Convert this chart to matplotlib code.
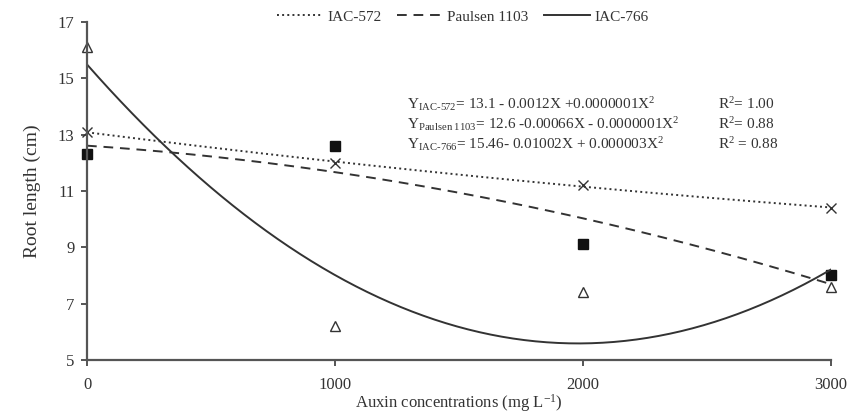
import matplotlib
matplotlib.use('Agg')
import matplotlib.pyplot as plt
import numpy as np

# data
auxin = [0, 1000, 2000, 3000]
iac572 = [13.1, 12.0, 11.2, 10.4]
paulsen = [12.3, 12.6, 9.1, 8.0]
iac766 = [16.1, 6.2, 7.4, 7.6]
y_ticks = [5, 7, 9, 11, 13, 15, 17]
x_ticks = [0, 1000, 2000, 3000]

plt.rcParams['font.family'] = ['Liberation Serif']
plt.rcParams['mathtext.fontset'] = 'custom'
plt.rcParams['mathtext.rm'] = 'Liberation Serif'
plt.rcParams['mathtext.it'] = 'Liberation Serif:italic'

ink = '#333333'
fig = plt.figure(figsize=(8.48, 4.17), dpi=100)
ax = fig.add_axes([0.1026, 0.137, 0.877, 0.81])

xs = np.linspace(0, 3000, 200)
styles = [(iac572, 'x', ':', 'IAC-572', dict(color=ink)),
          (paulsen, 's', (0, (5, 3.5)), 'Paulsen 1103', dict(color='#111111')),
          (iac766, '^', '-', 'IAC-766', dict(markerfacecolor='white', markeredgecolor=ink))]
for vals, mk, ls, lab, mkw in styles:
    coef = np.polyfit(auxin, vals, 2)  # quadratic trend line
    ax.plot(xs, np.polyval(coef, xs), color=ink, ls=ls, lw=1.4, label=lab)
    ax.plot(auxin, vals, ls='none', marker=mk, ms=7, mew=1.0, clip_on=False, **mkw)

ax.set_xlim(0, 3000)
ax.set_ylim(5, 17)
ax.set_xticks(x_ticks)
ax.set_yticks(y_ticks)
for s in ['top', 'right']:
    ax.spines[s].set_visible(False)
for s in ['left', 'bottom']:
    ax.spines[s].set_color('#555555')
    ax.spines[s].set_linewidth(1.6)
ax.tick_params(axis='y', direction='out', length=4, width=1.4, color='#555555',
               labelsize=12, labelcolor=ink, pad=5)
ax.tick_params(axis='x', direction='out', length=4, width=1.4, color='#555555',
               labelsize=12, labelcolor=ink, pad=8)
ax.set_ylabel('Root length (cm)', fontsize=14, color=ink, labelpad=12)
ax.set_xlabel('Auxin concentrations (mg L$^{\\mathrm{-1}}$)', fontsize=12, color=ink, labelpad=0)

ax.legend(loc='lower center', bbox_to_anchor=(0.505, 0.955), ncol=3, frameon=False,
          fontsize=11, handlelength=3, columnspacing=1.0, handletextpad=0.3,
          labelcolor=ink)

eqs = ['Y$_{\\mathrm{IAC\u2010572}}$= 13.1 - 0.0012X +0.0000001X$^{2}$',
       'Y$_{\\mathrm{Paulsen\\ 1103}}$= 12.6 -0.00066X - 0.0000001X$^{2}$',
       'Y$_{\\mathrm{IAC\u2010766}}$= 15.46- 0.01002X + 0.000003X$^{2}$']
r2 = ['R$^{2}$= 1.00', 'R$^{2}$= 0.88', 'R$^{2}$ = 0.88']
for i in range(3):
    yy = 13.9 - i * 0.7
    ax.text(1290, yy, eqs[i], fontsize=11, color=ink, va='baseline')
    ax.text(2545, yy, r2[i], fontsize=11, color=ink, va='baseline')

fig.savefig('out.png', dpi=100)
